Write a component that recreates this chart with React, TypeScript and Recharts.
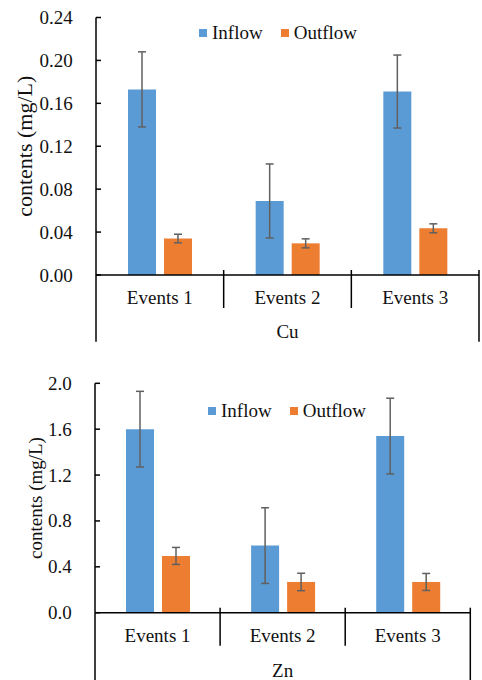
import React from 'react';
import { BarChart, Bar, XAxis, YAxis, ErrorBar, Legend } from 'recharts';

const events = ['Events 1', 'Events 2', 'Events 3'];

const cuInflow = [0.173, 0.069, 0.171];
const cuInflowErr = [0.035, 0.0345, 0.034];
const cuOutflow = [0.034, 0.0295, 0.0435];
const cuOutflowErr = [0.004, 0.0042, 0.0042];
const cuTicks = [0, 0.04, 0.08, 0.12, 0.16, 0.2, 0.24];

const znInflow = [1.6, 0.585, 1.54];
const znInflowErr = [0.33, 0.33, 0.33];
const znOutflow = [0.495, 0.268, 0.268];
const znOutflowErr = [0.074, 0.076, 0.074];
const znTicks = [0, 0.4, 0.8, 1.2, 1.6, 2.0];

const INFLOW = '#5B9BD5';
const OUTFLOW = '#ED7D31';
const FONT = '"Liberation Serif", "Times New Roman", serif';
const TXT = '#111';

const cuData = events.map((e, i) => ({
  event: e,
  inflow: cuInflow[i],
  inflowErr: cuInflowErr[i],
  outflow: cuOutflow[i],
  outflowErr: cuOutflowErr[i],
}));
const znData = events.map((e, i) => ({
  event: e,
  inflow: znInflow[i],
  inflowErr: znInflowErr[i],
  outflow: znOutflow[i],
  outflowErr: znOutflowErr[i],
}));

const CatTick = (props: any) => {
  const { x, y, payload, index, visibleTicksCount, width, longLen } = props;
  const off = payload && payload.offset ? payload.offset : width / visibleTicksCount / 2;
  const last = index === visibleTicksCount - 1;
  return (
    <g>
      {index > 0 && (
        <line x1={x - off} x2={x - off} y1={y - 5} y2={y + 33} stroke="#000" strokeWidth={1.5} />
      )}
      {index === 0 && (
        <line x1={x - off} x2={x - off} y1={y} y2={y + longLen} stroke="#000" strokeWidth={1.5} />
      )}
      {last && (
        <line x1={x + off} x2={x + off} y1={y - 5} y2={y + longLen} stroke="#000" strokeWidth={1.5} />
      )}
      <text x={x} y={y + 29.3} textAnchor="middle" fontFamily={FONT} fontSize={19} fill={TXT}>
        {payload.value}
      </text>
    </g>
  );
};

const YTick = (props: any) => {
  const { x, y, payload, digits } = props;
  return (
    <g>
      <line x1={x} x2={x + 5} y1={y} y2={y} stroke="#000" strokeWidth={1.5} />
      <text x={x - 23.3} y={y} dy={6.5} textAnchor="end" fontFamily={FONT} fontSize={19} fill={TXT}>
        {Number(payload.value).toFixed(digits)}
      </text>
    </g>
  );
};

const makeGroupLabel = (text: string, dy: number) => (p: any) => {
  const vb = p.viewBox || {};
  return (
    <text x={vb.x + vb.width / 2} y={vb.y + dy} textAnchor="middle" fontFamily={FONT} fontSize={19} fill={TXT}>
      {text}
    </text>
  );
};

const makeYTitle = (dx: number, size: number) => (p: any) => {
  const vb = p.viewBox || {};
  const cx = vb.x + dx;
  const cy = vb.y + vb.height / 2;
  return (
    <text
      x={cx}
      y={cy}
      transform={`rotate(-90 ${cx} ${cy})`}
      textAnchor="middle"
      dominantBaseline="central"
      fontFamily={FONT}
      fontSize={size}
      fill={TXT}
    >
      contents (mg/L)
    </text>
  );
};

const LegendContent = (props: any) => {
  const { payload } = props;
  return (
    <div style={{ display: 'flex', alignItems: 'center', fontFamily: FONT, fontSize: 19, lineHeight: '20px', color: TXT, whiteSpace: 'nowrap' }}>
      {(payload || []).map((p: any, i: number) => (
        <div key={i} style={{ display: 'flex', alignItems: 'center', marginRight: i === 0 ? 18 : 0 }}>
          <span style={{ display: 'inline-block', width: 8, height: 8, background: p.color, marginRight: 5 }} />
          <span>{p.value}</span>
        </div>
      ))}
    </div>
  );
};

type PanelProps = {
  data: any[];
  width: number;
  height: number;
  margin: any;
  yWidth: number;
  xHeight: number;
  ticks: number[];
  digits: number;
  group: string;
  groupDy: number;
  longLen: number;
  titleDx: number;
  titleSize: number;
  legendLeft: number;
  legendTop: number;
};

const Panel = (p: PanelProps) => (
  <BarChart width={p.width} height={p.height} data={p.data} margin={p.margin} barSize={28} barGap={8}>
    <Legend
      layout="horizontal"
      verticalAlign="middle"
      align="center"
      content={<LegendContent />}
      wrapperStyle={{ position: 'absolute', left: p.legendLeft, top: p.legendTop, width: 'auto', margin: 0 }}
    />
    <XAxis
      dataKey="event"
      height={p.xHeight}
      interval={0}
      tickLine={false}
      tickSize={0}
      tickMargin={0}
      axisLine={{ stroke: '#000', strokeWidth: 1.5 }}
      tick={<CatTick longLen={p.longLen} />}
      label={{ value: p.group, content: makeGroupLabel(p.group, p.groupDy) }}
    />
    <YAxis
      width={p.yWidth}
      domain={[p.ticks[0], p.ticks[p.ticks.length - 1]]}
      ticks={p.ticks}
      interval={0}
      tickLine={false}
      tickSize={0}
      tickMargin={0}
      axisLine={{ stroke: '#000', strokeWidth: 1.5 }}
      tick={<YTick digits={p.digits} />}
      label={{ value: 'contents (mg/L)', content: makeYTitle(p.titleDx, p.titleSize) }}
    />
    <Bar dataKey="inflow" name="Inflow" fill={INFLOW} isAnimationActive={false}>
      <ErrorBar dataKey="inflowErr" width={4} stroke="#606060" strokeWidth={1.5} direction="y" isAnimationActive={false} />
    </Bar>
    <Bar dataKey="outflow" name="Outflow" fill={OUTFLOW} isAnimationActive={false}>
      <ErrorBar dataKey="outflowErr" width={4} stroke="#606060" strokeWidth={1.5} direction="y" isAnimationActive={false} />
    </Bar>
  </BarChart>
);

export default function App() {
  return (
    <div style={{ position: 'absolute', left: 0, top: 0, width: 482, height: 680, background: '#fff' }}>
      <div style={{ position: 'absolute', left: 0, top: 0 }}>
        <Panel
          data={cuData}
          width={482}
          height={345}
          margin={{ top: 17.5, right: 3, bottom: 0, left: 0 }}
          yWidth={96}
          xHeight={70}
          ticks={cuTicks}
          digits={2}
          group="Cu"
          groupDy={63.3}
          longLen={66.7}
          titleDx={24}
          titleSize={22}
          legendLeft={199}
          legendTop={23}
        />
      </div>
      <div style={{ position: 'absolute', left: 0, top: 350 }}>
        <Panel
          data={znData}
          width={482}
          height={330}
          margin={{ top: 33.3, right: 11.7, bottom: 0, left: 0 }}
          yWidth={95}
          xHeight={67.3}
          ticks={znTicks}
          digits={1}
          group="Zn"
          groupDy={64.6}
          longLen={68}
          titleDx={35}
          titleSize={19}
          legendLeft={208}
          legendTop={50.7}
        />
      </div>
    </div>
  );
}
